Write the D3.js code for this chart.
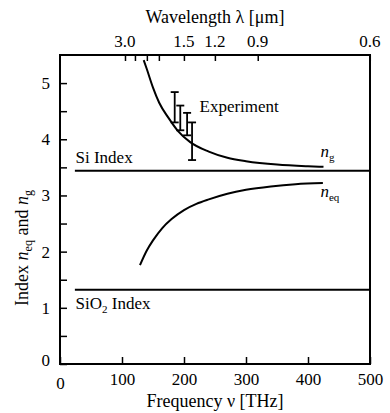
<!DOCTYPE html>
<html><head><meta charset="utf-8">
<script src="https://cdn.jsdelivr.net/npm/d3@7"></script>
<style>
body{margin:0;background:#fff;}
svg text{font-family:"Liberation Serif","Times New Roman","DejaVu Serif",serif !important;fill:#000;}
</style></head>
<body><svg id="c" width="390" height="413"></svg>
<script>
// ---- data ----
const xTicks = [0,100,200,300,400,500];
const yTicks = [0,1,2,3,4,5];
const yMinor = [0.5,1.5,2.5,3.5,4.5];
const topTickLambda = [2.86,2.48,2.14,1.88,1.5,1.2,0.94,0.6];
const topLabels = [{text:"3.0",pos:2.86},{text:"1.5",pos:1.5},{text:"1.2",pos:1.2},{text:"0.9",pos:0.94},{text:"0.6",pos:0.6}];
const ngNu = [135,140,150,160,175,190,210,240,270,300,350,400,425];
const ngVal = [5.41,5.25,4.92,4.65,4.38,4.15,3.95,3.78,3.67,3.61,3.55,3.52,3.51];
const neqNu = [129,140,150,165,180,200,220,240,270,300,340,380,424];
const neqVal = [1.76,2.02,2.2,2.42,2.58,2.74,2.85,2.93,3.03,3.10,3.16,3.2,3.22];
const expNu = [185,194,205,213];
const expLo = [4.3,4.16,4.07,3.63];
const expHi = [4.84,4.6,4.47,4.3];
const siIndex = 3.44, sio2Index = 1.32, indexStart = 24;

// ---- chart ----
const svg = d3.select("#c");
const x = d3.scaleLinear().domain([0,500]).range([60,370]);
const y = d3.scaleLinear().domain([0,5.5]).range([364,55]);
const C = 299.79;
const FS = "17px";

svg.append("rect").attr("x",x(0)).attr("y",y(5.5)).attr("width",x(500)-x(0)).attr("height",y(0)-y(5.5))
  .attr("fill","none").attr("stroke","#000").attr("stroke-width",2);

const bx = svg.append("g").attr("transform",`translate(0,${y(0)})`)
  .call(d3.axisBottom(x).tickValues(xTicks).tickSize(-7).tickPadding(9).tickFormat(d3.format("d")));
const ly = svg.append("g").attr("transform",`translate(${x(0)},0)`)
  .call(d3.axisLeft(y).tickValues(yTicks).tickSize(-7).tickPadding(10).tickFormat(d3.format("d")));
svg.append("g").attr("transform",`translate(${x(0)},0)`)
  .call(d3.axisLeft(y).tickValues(yMinor).tickSize(-7).tickFormat(""))
  .call(g=>{g.select(".domain").remove();g.selectAll("line").attr("stroke","#000").attr("stroke-width",1.5);});
const tx = svg.append("g").attr("transform",`translate(0,${y(5.5)})`)
  .call(d3.axisTop(x).tickValues(topTickLambda.map(l=>C/l)).tickSize(-6).tickFormat(""));
[bx,ly,tx].forEach(g=>{g.select(".domain").remove();g.selectAll("line").attr("stroke","#000").attr("stroke-width",1.5);g.selectAll("text").style("font-size",FS);});
ly.selectAll(".tick").filter(d=>d===0).select("text").attr("dy","0.1em");
bx.selectAll(".tick").filter(d=>d===0).select("text").attr("dy","0.95em");

svg.append("g").selectAll("text").data(topLabels).join("text")
  .attr("x",d=>x(C/d.pos)).attr("y",y(5.5)-8).attr("text-anchor","middle")
  .style("font-size",FS).text(d=>d.text);

svg.append("text").attr("x",215).attr("y",23).attr("text-anchor","middle").style("font-size","18px").text("Wavelength λ [μm]");
svg.append("text").attr("x",215).attr("y",407).attr("text-anchor","middle").style("font-size","18px").text("Frequency ν [THz]");
const yt = svg.append("text").attr("transform",`translate(28,248) rotate(-90)`).attr("text-anchor","middle").style("font-size","18px");
yt.append("tspan").text("Index ");
yt.append("tspan").attr("font-style","italic").text("n");
yt.append("tspan").attr("font-size","12px").attr("dy","4").text("eq");
yt.append("tspan").attr("dy","-4").text(" and ");
yt.append("tspan").attr("font-style","italic").text("n");
yt.append("tspan").attr("font-size","12px").attr("dy","4").text("g");

[siIndex,sio2Index].forEach(v=>{
  svg.append("line").attr("x1",x(indexStart)).attr("x2",x(500)).attr("y1",y(v)).attr("y2",y(v)).attr("stroke","#000").attr("stroke-width",2);
});

const line = d3.line().x(d=>x(d[0])).y(d=>y(d[1])).curve(d3.curveMonotoneX);
svg.append("path").datum(ngNu.map((v,i)=>[v,ngVal[i]])).attr("d",line).attr("fill","none").attr("stroke","#000").attr("stroke-width",2);
svg.append("path").datum(neqNu.map((v,i)=>[v,neqVal[i]])).attr("d",line).attr("fill","none").attr("stroke","#000").attr("stroke-width",2);

const eb = svg.append("g").attr("stroke","#000").attr("stroke-width",1.8);
expNu.forEach((v,i)=>{
  eb.append("line").attr("x1",x(v)).attr("x2",x(v)).attr("y1",y(expLo[i])).attr("y2",y(expHi[i]));
  [expLo[i],expHi[i]].forEach(e=>eb.append("line").attr("x1",x(v)-4).attr("x2",x(v)+4).attr("y1",y(e)).attr("y2",y(e)));
});

svg.append("text").attr("x",x(225)).attr("y",y(4.48)).style("font-size",FS).text("Experiment");
svg.append("text").attr("x",x(25)).attr("y",y(3.58)).style("font-size",FS).text("Si Index");
const sio = svg.append("text").attr("x",x(25)).attr("y",y(0.98)).style("font-size",FS);
sio.append("tspan").text("SiO");
sio.append("tspan").attr("font-size","11px").attr("dy","4").text("2");
sio.append("tspan").attr("dy","-4").text(" Index");
const ng = svg.append("text").attr("x",x(420)).attr("y",y(3.68)).style("font-size",FS);
ng.append("tspan").attr("font-style","italic").text("n");
ng.append("tspan").attr("font-size","11px").attr("dy","4").text("g");
const ne = svg.append("text").attr("x",x(420)).attr("y",y(2.98)).style("font-size",FS);
ne.append("tspan").attr("font-style","italic").text("n");
ne.append("tspan").attr("font-size","11px").attr("dy","4").text("eq");
</script></body></html>
